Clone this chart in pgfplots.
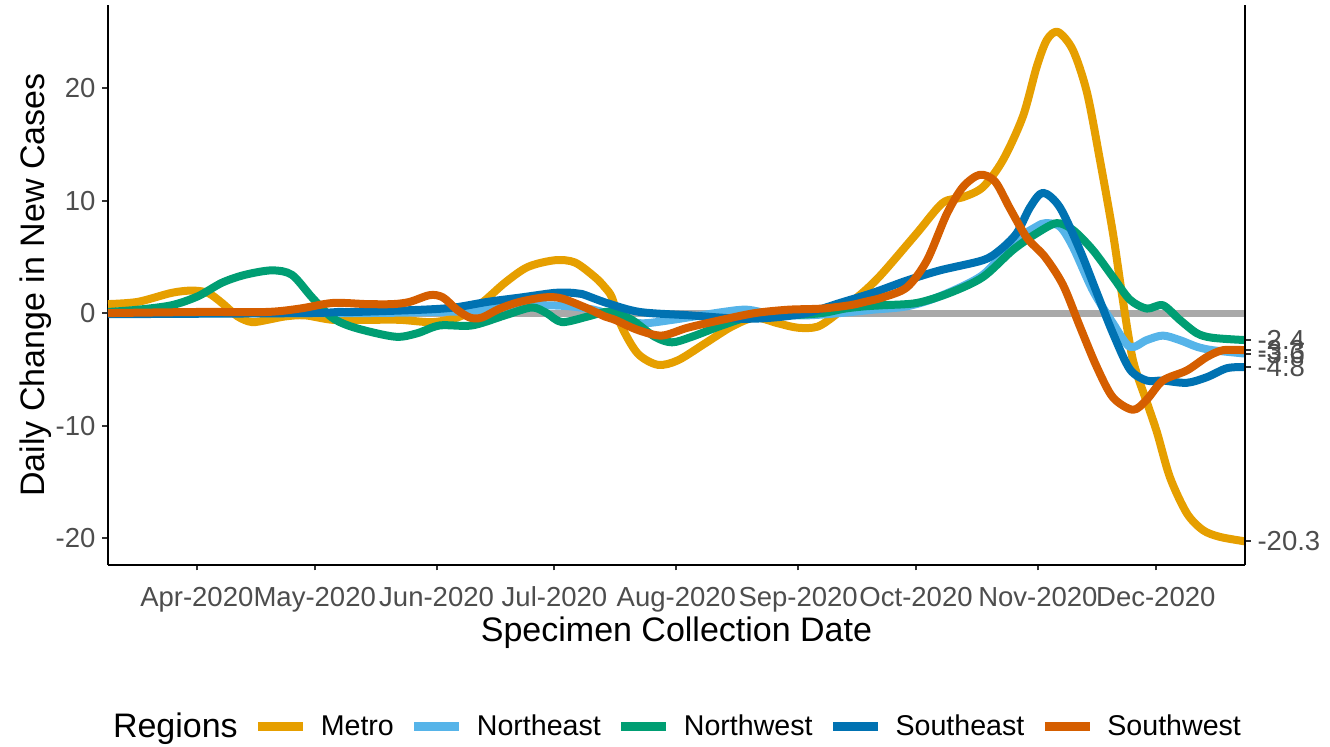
\documentclass[border=0pt]{standalone}
\usepackage{fontspec}
\setmainfont{Liberation Sans}
\usepackage{pgfplots}
\pgfplotsset{compat=1.18}
\definecolor{cMetro}{HTML}{E69F00}
\definecolor{cNE}{HTML}{56B4E9}
\definecolor{cNW}{HTML}{009E73}
\definecolor{cSE}{HTML}{0072B2}
\definecolor{cSW}{HTML}{D55E00}
\definecolor{tickgrey}{HTML}{4D4D4D}
\definecolor{zerogrey}{HTML}{A9A9A9}
\begin{document}
\begin{tikzpicture}
\useasboundingbox (0,0) rectangle (665pt,373.5pt);
\begin{axis}[
  at={(54pt,91pt)}, anchor=south west,
  scale only axis, width=568.5pt, height=280pt,
  xmin=-22.6, xmax=266.7, ymin=-22.4, ymax=27.4,
  axis x line*=bottom, axis y line*=left,
  axis line style={line width=1pt, black, -},
  tick align=outside, major tick length=2.75pt,
  tick style={line width=1pt, black!80},
  xtick={0,30,61,91,122,153,183,214,244},
  xticklabels={Apr-2020,May-2020,Jun-2020,Jul-2020,Aug-2020,Sep-2020,Oct-2020,Nov-2020,Dec-2020},
  ytick={-20,-10,0,10,20},
  yticklabels={-20,-10,0,10,20},
  tick label style={font=\fontsize{13.75}{16}\selectfont, text=tickgrey},
  xticklabel style={yshift=-4.5pt, text height=10pt, text depth=3pt},
  label style={font=\fontsize{17}{20}\selectfont},
  xlabel={Specimen Collection Date},
  ylabel={Daily Change in New Cases},
  xlabel style={at={(axis description cs:0.5,-0.121)}, anchor=center},
  ylabel style={at={(axis description cs:-0.064,0.5)}, anchor=center},
  legend columns=6,
  legend style={draw=none, fill=none, at={(axis description cs:-0.0070,-0.289)}, anchor=west,
    font=\fontsize{14.3}{16}\selectfont, inner sep=0pt, outer sep=0pt,
    nodes={inner sep=0pt},
    /tikz/every odd column/.append style={column sep=6.5pt},
    /tikz/every even column/.append style={column sep=8pt}},
  legend image code/.code={\draw[line width=4.5pt, line cap=butt] (0pt,0pt) -- (22.5pt,0pt);},
  every axis plot/.append style={line width=4pt, line join=round},
]
\addlegendimage{empty legend}
\addlegendentry{\fontsize{17}{20}\selectfont Regions}
\addplot[zerogrey, line width=3.5pt, forget plot] coordinates {(-22.6,0) (266.7,0)};
\addplot[cMetro, smooth] coordinates {
(-22.6,0.8) (-15,1.0) (-6.4,1.8) (-1.3,2.0) (2.8,1.8) (6.4,0.9) (10.4,-0.3) (14,-0.8) (18,-0.6) (22.4,-0.3) (27.5,-0.2) (34.6,-0.6) (43.3,-0.6) (51.7,-0.6) (60,-0.8) (67,-0.3) (72.5,0.9) (78.4,2.7) (84.2,4.1) (91.1,4.7) (96.2,4.5) (101.3,3.2) (103.8,2.3) (105.6,1.4) (108.1,-1.2) (112.2,-3.6) (117.3,-4.6) (122.4,-4.2) (129.3,-2.7) (136.1,-1.2) (142,-0.4) (147.8,-0.9) (152.9,-1.3) (158,-1.2) (163.1,0) (170,2.0) (174.6,3.6) (183.2,7.1) (189.8,9.8) (194.9,10.3) (200,11.2) (205.1,13.6) (210.2,17.5) (213.7,21.9) (216.3,24.3) (219.1,25.0) (222.9,23.4) (226.5,19.6) (229.8,13.6) (233.1,7.1) (235.6,1.2) (238.2,-4.2) (241.7,-7.9) (244.3,-10.6) (247.6,-14.6) (251.9,-17.8) (256,-19.3) (260.3,-19.9) (266.7,-20.3)};
\addlegendentry{Metro}
\addplot[cNE, smooth] coordinates {
(-22.6,0) (40,0) (60,0.1) (70,0.2) (80,0.6) (88,0.7) (95,0.6) (101,0.3) (106,-0.2) (112.7,-0.9) (121,-0.6) (133.9,0.1) (140,0.3) (146.6,-0.1) (155.2,-0.2) (163.6,0) (172,0.3) (180.7,0.6) (189.1,1.5) (200,3.4) (207.6,6.3) (213.7,7.7) (216,8.0) (219.6,7.7) (222.9,5.9) (228,2.0) (233.1,-0.9) (237.4,-3.0) (241.7,-2.4) (245.8,-2.0) (250.1,-2.4) (254.5,-3.0) (258.5,-3.3) (266.7,-3.6)};
\addlegendentry{Northeast}
\addplot[cNW, smooth] coordinates {
(-22.6,0.1) (-15,0.3) (-6.4,0.7) (0.3,1.5) (6.4,2.7) (12.2,3.4) (19.1,3.8) (24.2,3.4) (29.3,1.4) (34.4,-0.4) (40.2,-1.3) (50.4,-2.1) (56,-1.8) (61.8,-1.1) (70,-1.1) (78.4,-0.2) (85.2,0.5) (89,0) (92.9,-0.8) (99.5,-0.3) (103.8,0.1) (106.4,0) (110.7,-0.6) (116.5,-2.1) (120.9,-2.6) (126,-2.1) (133.6,-1.1) (142,-0.2) (150.4,-0.2) (159,0) (164.9,0.4) (170,0.6) (174.6,0.7) (183.2,0.9) (191.6,1.8) (200,3.2) (207.6,5.6) (213.7,7.1) (218.8,8.0) (222.9,7.4) (228,5.6) (233.1,3.2) (237.4,1.2) (241.7,0.4) (245.8,0.7) (250.1,-0.6) (254.5,-1.8) (258.5,-2.2) (266.7,-2.4)};
\addlegendentry{Northwest}
\addplot[cSE, smooth] coordinates {
(-22.6,-0.1) (27.5,0) (35.9,0.1) (40.2,0.1) (57.3,0.3) (65.6,0.5) (74,1.0) (82.7,1.4) (91.1,1.8) (95.7,1.8) (98,1.7) (104.3,0.9) (112.7,0.1) (125.4,-0.2) (138.2,-0.5) (146.6,-0.4) (155.2,0) (163.6,0.9) (172,1.8) (180.7,2.9) (189.1,3.8) (200,4.7) (204.3,5.6) (208.6,7.1) (212,9.4) (215.3,10.7) (219.6,9.4) (224.7,5.6) (229,1.8) (233.1,-1.8) (237.4,-5.0) (241.7,-6.0) (245.8,-6.0) (251.9,-6.2) (257,-5.7) (262.1,-4.9) (266.7,-4.8)};
\addlegendentry{Southeast}
\addplot[cSW, smooth] coordinates {
(-22.6,0) (0.8,0.1) (17.8,0.1) (26.2,0.4) (34.6,0.9) (43.3,0.8) (49.9,0.8) (54.2,1.0) (59.3,1.6) (62.6,1.4) (66.2,0.3) (69.5,-0.4) (72.5,-0.4) (77.1,0.4) (82.2,1.0) (88.5,1.4) (92.9,1.3) (99.5,0.4) (103.8,-0.3) (106.4,-0.6) (112.2,-1.5) (118.3,-2.0) (124.9,-1.3) (133.6,-0.6) (142,0) (150.4,0.3) (159,0.4) (166.2,0.7) (170,1.0) (174.6,1.4) (180.7,2.3) (185.8,4.7) (190.8,8.8) (194.9,11.2) (199.2,12.3) (203.1,11.7) (206.9,9.3) (211.2,6.7) (215.8,5.0) (220.4,2.5) (224.7,-1.2) (229,-4.8) (233.1,-7.5) (238.2,-8.6) (241.7,-7.7) (245.8,-6.0) (251.9,-5.1) (257,-3.9) (261.1,-3.3) (266.7,-3.3)};
\addlegendentry{Southwest}
\end{axis}
\begin{axis}[
  at={(54pt,91pt)}, anchor=south west,
  scale only axis, width=568.5pt, height=280pt,
  xmin=-22.6, xmax=266.7, ymin=-22.4, ymax=27.4,
  axis x line=none, axis y line*=right,
  axis line style={line width=1pt, black, -},
  tick align=outside, major tick length=2.75pt,
  tick style={line width=1pt, black!80},
  ytick={-20.3,-4.8,-3.6,-3.3,-2.4},
  yticklabels={-20.3,-4.8,-3.6,-3.3,-2.4},
  tick label style={font=\fontsize{13.75}{16}\selectfont, text=tickgrey},
]
\addplot[draw=none, forget plot] coordinates {(0,0)};
\end{axis}
\end{tikzpicture}
\end{document}
